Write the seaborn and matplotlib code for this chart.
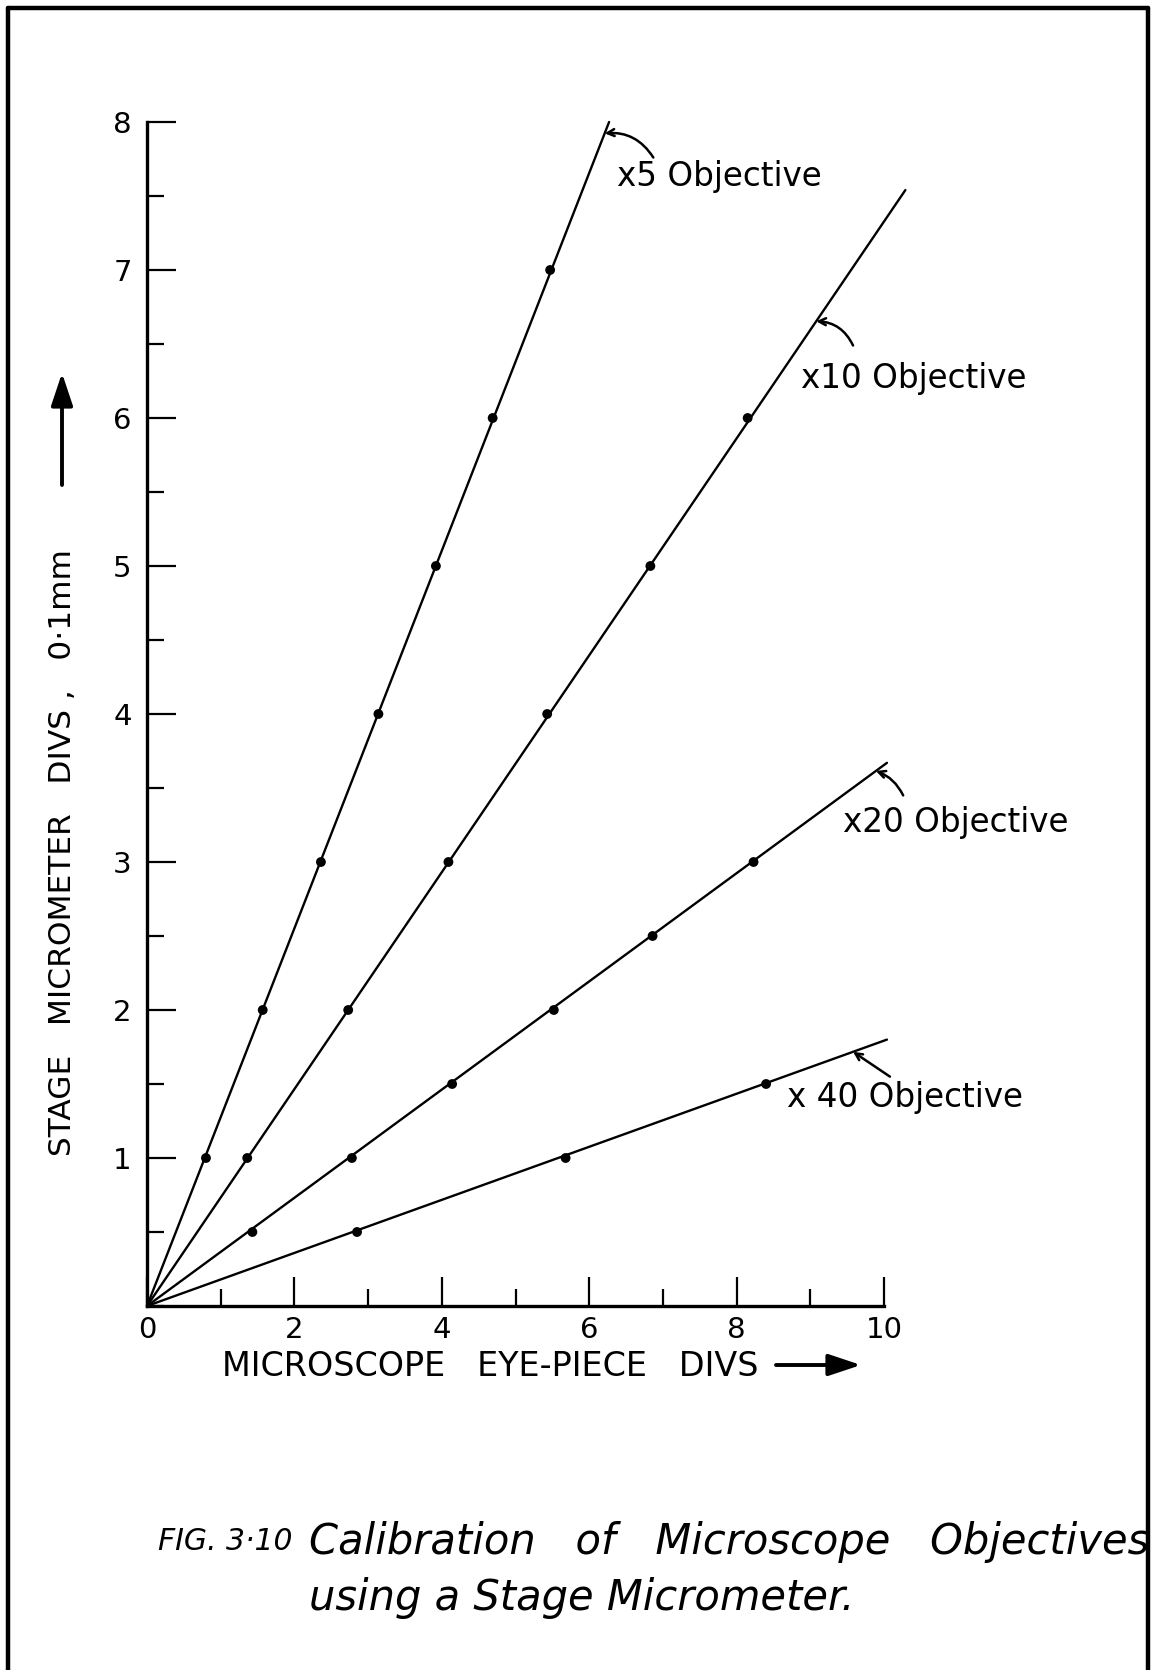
import matplotlib
matplotlib.use("Agg")
import matplotlib.pyplot as plt
import seaborn as sns
import pandas as pd
from matplotlib.ticker import MultipleLocator, FixedLocator
from matplotlib.lines import Line2D
from matplotlib.patches import FancyArrowPatch

# Eye-piece divisions read against stage-micrometer divisions (units of 0.1 mm)
x5_eyepiece = [0.80, 1.57, 2.36, 3.14, 3.92, 4.69, 5.47]
x5_stage = [1, 2, 3, 4, 5, 6, 7]
x10_eyepiece = [1.36, 2.73, 4.09, 5.43, 6.83, 8.15]
x10_stage = [1, 2, 3, 4, 5, 6]
x20_eyepiece = [1.43, 2.78, 4.14, 5.52, 6.86, 8.23]
x20_stage = [0.5, 1, 1.5, 2, 2.5, 3]
x40_eyepiece = [2.85, 5.68, 8.40]
x40_stage = [0.5, 1, 1.5]

objectives = ["x5 Objective", "x10 Objective", "x20 Objective", "x 40 Objective"]

# Far ends of the straight calibration lines, each drawn from the origin
line_end_eyepiece = [6.27, 10.29, 10.04, 10.04]
line_end_stage = [8.0, 7.54, 3.67, 1.80]

x_ticks = [0, 2, 4, 6, 8, 10]
y_ticks = [1, 2, 3, 4, 5, 6, 7, 8]

points = pd.concat([
    pd.DataFrame({"eyepiece": xs, "stage": ys, "objective": name})
    for name, xs, ys in zip(objectives,
                            [x5_eyepiece, x10_eyepiece, x20_eyepiece, x40_eyepiece],
                            [x5_stage, x10_stage, x20_stage, x40_stage])
], ignore_index=True)

lines = pd.concat([
    pd.DataFrame({"eyepiece": [0.0, xe], "stage": [0.0, ye], "objective": name})
    for name, xe, ye in zip(objectives, line_end_eyepiece, line_end_stage)
], ignore_index=True)

sns.set_style("ticks")
plt.rcParams["font.family"] = ["DejaVu Sans"]
plt.rcParams["text.color"] = "black"
plt.rcParams["axes.labelcolor"] = "black"
plt.rcParams["xtick.color"] = "black"
plt.rcParams["ytick.color"] = "black"

W, H = 1157, 1670
fig = plt.figure(figsize=(W / 100, H / 100), dpi=100)
fig.patch.set_facecolor("white")

# axes box: x 0..10 spans px 147..884, y 0..8 spans px 1306..122
ax = fig.add_axes([147 / W, 1 - 1306 / H, 737 / W, 1184 / H])
ax.set_facecolor("white")

black = {name: "black" for name in objectives}
sns.lineplot(data=lines, x="eyepiece", y="stage", hue="objective", palette=black,
             units="objective", estimator=None, sort=False, linewidth=1.7,
             legend=False, ax=ax, clip_on=False)
sns.scatterplot(data=points, x="eyepiece", y="stage", hue="objective", palette=black,
                s=50, edgecolor="black", linewidth=0, legend=False, ax=ax, zorder=5)

ax.set_xlim(0, 10)
ax.set_ylim(0, 8)
sns.despine(ax=ax)
for side in ("left", "bottom"):
    ax.spines[side].set_linewidth(2.4)
    ax.spines[side].set_color("black")

ax.xaxis.set_major_locator(FixedLocator(x_ticks))
ax.xaxis.set_minor_locator(MultipleLocator(1))
ax.yaxis.set_major_locator(FixedLocator(y_ticks))
ax.yaxis.set_minor_locator(MultipleLocator(0.5))
ax.set_xticklabels([str(v) for v in x_ticks])
ax.set_yticklabels([str(v) for v in y_ticks])
ax.tick_params(which="major", direction="in", length=21, width=1.6, color="black",
               labelsize=21, labelcolor="black")
ax.tick_params(which="minor", direction="in", length=12, width=1.6, color="black")
ax.tick_params(axis="y", which="major", pad=11)
ax.tick_params(axis="x", which="major", pad=7)

ax.set_xlabel("MICROSCOPE   EYE-PIECE   DIVS", fontsize=24, va="center")
ax.xaxis.set_label_coords(0.466, -0.0515)
ax.set_ylabel("STAGE   MICROMETER   DIVS ,   0·1mm", fontsize=22.5, va="center")
ax.yaxis.set_label_coords(-0.1153, 0.383)

# axis direction arrows beside the labels
arrow_kw = dict(arrowstyle="-|>,head_length=0.9,head_width=0.3", color="black",
                lw=2.8, shrinkA=0, shrinkB=0, mutation_scale=22,
                transform=fig.transFigure)
fig.add_artist(FancyArrowPatch((62 / W, 1 - 485 / H), (62 / W, 1 - 373 / H), **arrow_kw))
fig.add_artist(FancyArrowPatch((776 / W, 1 - 1365 / H), (861 / W, 1 - 1365 / H), **arrow_kw))

# labels with pointer arrows onto each calibration line
label_pos = [(6.38, 7.63), (8.87, 6.27), (9.44, 3.27), (8.68, 1.41)]
arrow_tip_x = [6.21, 9.08, 9.89, 9.58]
arrow_tail = [(6.87, 7.76), (9.58, 6.49), (10.26, 3.45), (10.08, 1.55)]
bend = [0.3, 0.3, 0.2, 0.0]
for name, (tx, ty), tipx, tail, xe, ye, rad in zip(objectives, label_pos, arrow_tip_x,
                                                  arrow_tail, line_end_eyepiece,
                                                  line_end_stage, bend):
    ax.text(tx, ty, name, fontsize=23.5, ha="left", va="center", clip_on=False)
    tip = (tipx, tipx * ye / xe)
    ax.annotate("", xy=tip, xytext=tail, annotation_clip=False,
                arrowprops=dict(arrowstyle="->,head_length=0.5,head_width=0.25",
                                color="black", lw=1.8, shrinkA=0, shrinkB=0,
                                connectionstyle=f"arc3,rad={rad}"))

# figure caption
fig.text(158 / W, 1 - 1542 / H, "FIG. 3·10", fontsize=21.5, style="italic",
         ha="left", va="center")
fig.text(309 / W, 1 - 1542 / H, "Calibration   of   Microscope   Objectives", fontsize=30,
         style="italic", ha="left", va="center")
fig.text(309 / W, 1 - 1598 / H, "using a Stage Micrometer.", fontsize=30,
         style="italic", ha="left", va="center")

# page frame: top, left and right edges
lx, rx, ty = 8 / W, 1148 / W, 1 - 8 / H
for xs, ys in [([lx, rx], [ty, ty]), ([lx, lx], [ty, -0.01]), ([rx, rx], [ty, -0.01])]:
    fig.add_artist(Line2D(xs, ys, transform=fig.transFigure, color="black", lw=3.2))

fig.savefig("out.png", dpi=100, facecolor="white")
